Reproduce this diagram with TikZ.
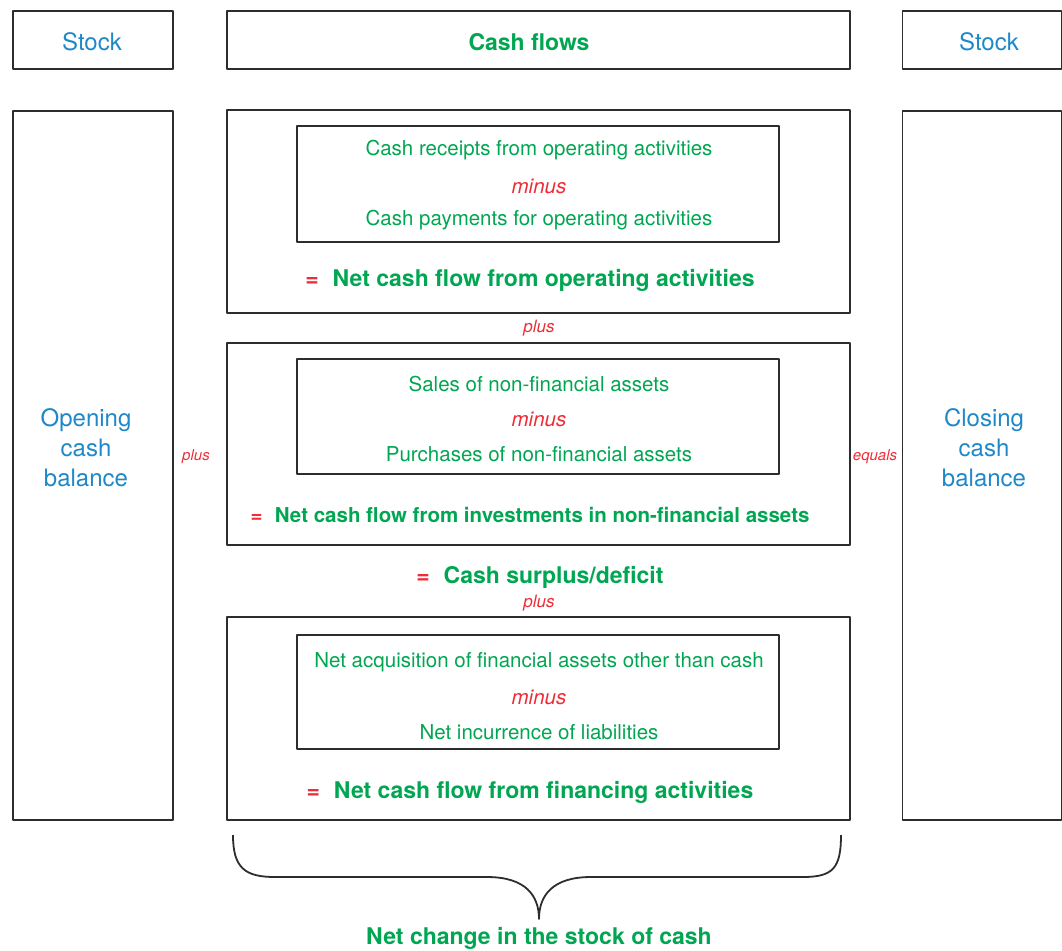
\documentclass[tikz,border=0pt]{standalone}
\usepackage{fontspec}
\setmainfont{TeX Gyre Heros}

\definecolor{stockblue}{RGB}{30,136,200}
\definecolor{flowgreen}{RGB}{0,166,81}
\definecolor{opred}{RGB}{237,45,55}
\definecolor{boxgray}{RGB}{45,45,45}

\newcommand{\redeq}{{\color{opred}=}\hspace{0.6em}}

\tikzset{
  box/.style={draw=boxgray, line width=1.8pt, inner sep=0pt},
  stocktxt/.style={text=stockblue, font=\fontsize{24}{30}\selectfont, align=center},
  flowtxt/.style={text=flowgreen, font=\fontsize{20.5}{24}\selectfont},
  minustxt/.style={text=opred, font=\fontsize{20.5}{24}\selectfont\itshape},
  sumtxt/.style={text=flowgreen, font=\fontsize{23}{28}\selectfont\bfseries},
  linktxt/.style={text=opred, font=\fontsize{15}{18}\selectfont\itshape},
}

\begin{document}
\begin{tikzpicture}[x=1pt, y=-1pt, line join=round]
  \useasboundingbox (0,0) rectangle (1062,950);

  %% =================== HEADER ROW ====================
  \node[box, minimum width=160, minimum height=58] (stockL) at (93,40) {};
  \node[stocktxt] (stockLlbl) at (92,42) {Stock};
  \node[box, minimum width=623, minimum height=58] (flowhead) at (538.5,40) {};
  \node[sumtxt] (flowlbl) at (529,42) {Cash flows};
  \node[box, minimum width=159, minimum height=58] (stockR) at (982,40) {};
  \node[stocktxt] (stockRlbl) at (989,42) {Stock};

  %% ================= STOCK COLUMNS =================
  \node[box, minimum width=160, minimum height=709] (openbox) at (93,465.5) {};
  \node[stocktxt] (openlbl) at (86,448) {Opening\\cash\\balance};

  \node[box, minimum width=159, minimum height=709] (closebox) at (982,465.5) {};
  \node[stocktxt] (closelbl) at (984,448) {Closing\\cash\\balance};

  \node[linktxt] (pluslink) at (196,457) {plus};
  \node[linktxt] (equalslink) at (875,457) {equals};

  %% ================ OPERATING ACTIVITIES ================
  \node[box, minimum width=623, minimum height=203] (opbox) at (538.5,211.5) {};
  \node[box, minimum width=482, minimum height=116] (opinner) at (538,184) {};
  \node[flowtxt] (oprec) at (539,150) {Cash receipts from operating activities};
  \node[minustxt] (opminus) at (539,186) {minus};
  \node[flowtxt] (oppay) at (539,220) {Cash payments for operating activities};
  \node[sumtxt] (opnet) at (530,280) {\redeq Net cash flow from operating activities};

  \node[linktxt, font=\fontsize{17}{20}\selectfont\itshape] (plusA) at (539,328) {plus};

  %% ========== INVESTMENTS IN NON-FINANCIAL ASSETS ==========
  \node[box, minimum width=623, minimum height=202] (invbox) at (538.5,444) {};
  \node[box, minimum width=482, minimum height=115] (invinner) at (538,416.5) {};
  \node[flowtxt] (invsales) at (539,384) {Sales of non-financial assets};
  \node[minustxt] (invminus) at (539,419) {minus};
  \node[flowtxt] (invbuy) at (539,454) {Purchases of non-financial assets};
  \node[sumtxt, font=\fontsize{20.5}{24}\selectfont\bfseries] (invnet) at (530,515)
    {\redeq Net cash flow from investments in non-financial assets};

  \node[sumtxt] (surplus) at (540,577) {\redeq Cash surplus/deficit};
  \node[linktxt, font=\fontsize{17}{20}\selectfont\itshape] (plusB) at (539,603) {plus};

  %% ================ FINANCING ACTIVITIES ================
  \node[box, minimum width=623, minimum height=203] (finbox) at (538.5,718.5) {};
  \node[box, minimum width=482, minimum height=114] (fininner) at (538,692) {};
  \node[flowtxt] (finacq) at (539,662) {Net acquisition of financial assets other than cash};
  \node[minustxt] (finminus) at (539,697) {minus};
  \node[flowtxt] (finliab) at (539,732) {Net incurrence of liabilities};
  \node[sumtxt] (finnet) at (530,792) {\redeq Net cash flow from financing activities};

  %% ================ BRACE AND TOTAL ================
  \draw[line width=1.8pt, boxgray] (233,835)
    .. controls (233,868) and (245,877) .. (275,877) -- (487,877)
    .. controls (525,877) and (539,895) .. (539,919)
    .. controls (539,895) and (553,877) .. (591,877) -- (803,877)
    .. controls (833,877) and (841,868) .. (841,835);
  \node[sumtxt] (netchange) at (539,938) {Net change in the stock of cash};

\end{tikzpicture}
\end{document}
